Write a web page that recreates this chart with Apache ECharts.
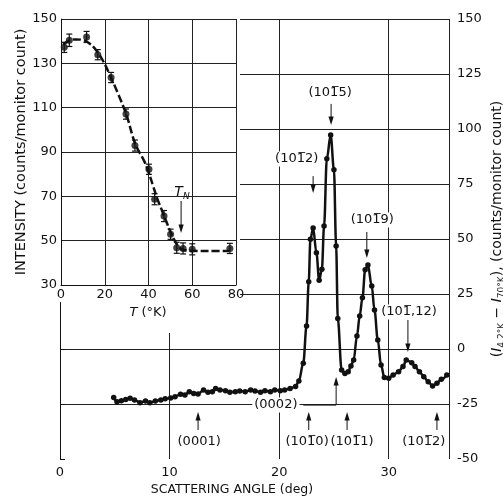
<!DOCTYPE html>
<html><head><meta charset="utf-8">
<script src="https://cdn.jsdelivr.net/npm/echarts@6/dist/echarts.min.js"></script>
<style>html,body{margin:0;padding:0;background:#fff}#c{width:503px;height:499px}</style>
</head><body><div id="c"></div>
<script>
// ---- main scan: scattering angle (deg) vs (I4.2K - I70K)
const SCAN_ANGLE = [4.9,5.2,5.6,6.0,6.4,6.8,7.3,7.8,8.2,8.7,9.2,9.6,10.1,10.5,11.0,11.4,11.8,12.2,12.6,13.1,13.5,13.9,14.2,14.6,15.1,15.5,16.0,16.4,16.9,17.4,17.8,18.3,18.7,19.2,19.6,20.1,20.5,21.0,21.5,21.8,22.2,22.5,22.7,22.85,23.1,23.4,23.65,23.9,24.1,24.35,24.7,25.0,25.2,25.35,25.7,26.0,26.3,26.55,26.8,27.1,27.35,27.6,27.85,28.1,28.45,28.7,29.0,29.3,29.6,30.0,30.4,30.9,31.3,31.6,32.1,32.4,32.8,33.2,33.6,34.0,34.4,34.8,35.3];
const SCAN_VALUE = [-22.0,-24.0,-23.5,-22.9,-22.4,-23.2,-24.4,-23.6,-24.4,-23.6,-23.2,-22.6,-22.3,-21.7,-20.6,-20.9,-19.4,-20.2,-20.5,-18.6,-19.7,-19.4,-17.9,-18.6,-19.0,-19.7,-19.4,-19.1,-19.4,-18.6,-19.1,-19.7,-19.0,-19.4,-18.6,-19.0,-18.6,-17.9,-17.1,-14.5,-6.5,10.5,30.6,49.9,55.0,43.8,31.2,36.3,55.9,86.5,97.3,81.5,46.8,13.9,-9.5,-11.1,-10.3,-7.7,-5.0,5.9,15.0,23.3,36.0,38.2,28.6,17.7,4.1,-7.3,-13.0,-13.3,-11.8,-10.3,-8.0,-5.0,-6.2,-8.0,-10.3,-12.6,-14.9,-16.8,-15.6,-13.8,-11.8];
// ---- inset: temperature (K) vs intensity
const INSET_T   = [1.5,3.8,11.7,16.8,22.9,29.7,33.8,40.2,42.8,47.1,50.1,52.9,55.8,60.0,77.2];
const INSET_I   = [137.2,140.4,141.9,133.9,123.6,107.1,92.9,82.2,68.7,61.1,52.9,46.8,46.5,46.1,46.5];
const INSET_ERR = [2.3,2.8,2.5,2.3,2.3,2.3,2.5,2.3,2.5,2.5,2.3,2.5,2.5,2.5,2.3];
const CURVE_T = [1,4,7,10,13,16,19,22,26,30,34,38,40,42,44,46,48,50,52,54,56,60,70,77];
const CURVE_I = [138.5,140.3,140.8,140.5,139,136,131.5,125.5,116.5,106.5,93.5,86,81,75,69,64,59,54,50,47,45.8,45.4,45.3,45.3];
// ---- ticks
const MAIN_X_TICKS = [0,10,20,30];
const MAIN_Y_TICKS = [-50,-25,0,25,50,75,100,125,150];
const INSET_X_TICKS = [0,20,40,60,80];
const INSET_Y_TICKS = [30,50,70,90,110,130,150];
// ---- annotations (data coordinates of main plot)
const OB = '1\u0305';
const NOTES = [
  {text:'(10'+OB+'5)', lx:24.65, ly:116.4, ax:24.74, tail:111.4, tip:101.8},
  {text:'(10'+OB+'2)', lx:21.6, ly:86.4, ax:23.1, tail:78.6, tip:70.9},
  {text:'(10'+OB+'9)', lx:28.5, ly:58.6, ax:28.0, tail:53.2, tip:41.4},
  {text:'(10'+OB+',12)', lx:31.85, ly:16.8, ax:31.75, tail:13.2, tip:-1.4},
  {text:'(0001)', lx:12.7, ly:-42.3, ax:12.6, tail:-36.8, tip:-28.6},
  {text:'(10'+OB+'0)', lx:22.55, ly:-42.3, ax:22.7, tail:-36.8, tip:-28.6},
  {text:'(10'+OB+'1)', lx:26.65, ly:-42.3, ax:26.2, tail:-36.8, tip:-28.6},
  {text:'(10'+OB+'2)', lx:33.2, ly:-42.3, ax:34.4, tail:-36.8, tip:-28.6},
  {text:'(0002)', lx:19.7, ly:-25.5, ax:25.2, tail:-25.5, tip:-12.7, from:22.2}
];
const INSET_NOTES = [
  {text:'{t|T}{n|N}', lx:55.3, ly:72, ax:54.9, tail:67.9, tip:53.5, rich:true}
];

const FONT = 'DejaVu Sans';
const INK = '#111';

function arrowRenderer(list){
  return function(params, api){
    const a = list[params.dataIndex];
    const ch = [];
    const tip = api.coord([a.ax, a.tip]);
    const tail = api.coord([a.ax, a.tail]);
    const dir = tail[1] > tip[1] ? 1 : -1;
    if (a.from !== undefined) {
      const st = api.coord([a.from, a.tail]);
      ch.push({type:'polyline', shape:{points:[st, tail, [tip[0], tip[1]+dir*6]]}, style:{stroke:INK, lineWidth:1, fill:null}});
    } else {
      ch.push({type:'line', shape:{x1:tail[0], y1:tail[1], x2:tip[0], y2:tip[1]+dir*6}, style:{stroke:INK, lineWidth:1}});
    }
    ch.push({type:'polygon', shape:{points:[[tip[0], tip[1]], [tip[0]-2.6, tip[1]+dir*8.5], [tip[0]+2.6, tip[1]+dir*8.5]]}, style:{fill:INK}});
    const lp = api.coord([a.lx, a.ly]);
    const st = {text:a.text, fontSize:13, fontFamily:FONT, fill:INK, align:'center', verticalAlign:'middle', backgroundColor:'#fff', padding:[1,2]};
    if (a.rich) {
      st.rich = {t:{fontStyle:'italic', fontSize:14, fontFamily:FONT, fill:INK}, n:{fontStyle:'italic', fontSize:9, fontFamily:FONT, fill:INK, padding:[9,0,0,0]}};
      st.backgroundColor = null;
    }
    ch.push({type:'text', x:lp[0], y:lp[1], style:st});
    return {type:'group', children:ch};
  };
}

function errRenderer(params, api){
  const t = api.value(0), v = api.value(1), e = api.value(2);
  const hi = api.coord([t, v+e]), lo = api.coord([t, v-e]);
  const w = 3, s = {stroke:INK, lineWidth:1.2};
  return {type:'group', children:[
    {type:'line', shape:{x1:hi[0], y1:hi[1], x2:lo[0], y2:lo[1]}, style:s},
    {type:'line', shape:{x1:hi[0]-w, y1:hi[1], x2:hi[0]+w, y2:hi[1]}, style:s},
    {type:'line', shape:{x1:lo[0]-w, y1:lo[1], x2:lo[0]+w, y2:lo[1]}, style:s}
  ]};
}

const gridLine = {show:true, lineStyle:{color:'#222', width:1}};
const chart = echarts.init(document.getElementById('c'), null, {renderer:'canvas'});
chart.setOption({
  animation:false,
  backgroundColor:'#fff',
  grid:[
    {left:60, right:54, top:19, bottom:40},
    {left:61, top:19, width:175, height:266}
  ],
  xAxis:[
    {gridIndex:0, type:'value', min:MAIN_X_TICKS[0], max:35.5, interval:10, z:0,
     axisLine:{show:false}, axisTick:{show:false},
     axisLabel:{fontSize:13, fontFamily:FONT, color:INK, margin:7,
       formatter:v => MAIN_X_TICKS.includes(v) ? String(v) : ''},
     splitLine:gridLine},
    {gridIndex:1, type:'value', min:INSET_X_TICKS[0], max:INSET_X_TICKS[INSET_X_TICKS.length-1], interval:20, z:2,
     axisLine:{show:true, lineStyle:{color:INK, width:1}}, axisTick:{show:false},
     axisLabel:{fontSize:13, fontFamily:FONT, color:INK, margin:3},
     splitLine:gridLine}
  ],
  yAxis:[
    {gridIndex:0, type:'value', position:'right', min:MAIN_Y_TICKS[0], max:MAIN_Y_TICKS[MAIN_Y_TICKS.length-1], interval:25, z:0,
     axisLine:{show:true, lineStyle:{color:INK, width:1}},
     axisTick:{show:true, length:5, lineStyle:{color:INK}},
     axisLabel:{fontSize:13, fontFamily:FONT, color:INK, margin:8},
     splitLine:{show:true, showMinLine:false, lineStyle:{color:'#222', width:1}}},
    {gridIndex:1, type:'value', min:INSET_Y_TICKS[0], max:INSET_Y_TICKS[INSET_Y_TICKS.length-1], interval:20, z:2,
     axisLine:{show:true, lineStyle:{color:INK, width:1}}, axisTick:{show:false},
     axisLabel:{fontSize:13, fontFamily:FONT, color:INK, margin:4},
     splitLine:gridLine}
  ],
  graphic:{elements:[
    {type:'rect', z:1, shape:{x:0, y:0, width:240, height:302}, style:{fill:'#fff'}},
    {type:'rect', z:1, shape:{x:165, y:300, width:9, height:33}, style:{fill:'#fff'}},
    {type:'text', z:10, x:21, y:152, rotation:Math.PI/2,
     style:{text:'INTENSITY (counts/monitor count)', fontSize:14.5, fontFamily:FONT, fill:INK, align:'center', verticalAlign:'middle'}},
    {type:'text', z:10, x:148, y:313,
     style:{text:'{i|T} (°K)', fontSize:13, fontFamily:FONT, fill:INK, align:'center', verticalAlign:'middle',
            rich:{i:{fontStyle:'italic', fontSize:13, fontFamily:FONT, fill:INK}}}},
    {type:'text', z:10, x:232, y:490,
     style:{text:'SCATTERING ANGLE (deg)', fontSize:12.5, fontFamily:FONT, fill:INK, align:'center', verticalAlign:'middle'}},
    {type:'text', z:10, x:497, y:229, rotation:Math.PI/2,
     style:{text:'({i|I}{s|4.2°K} − {i|I}{s|70°K}), (counts/monitor count)', fontSize:14, fontFamily:FONT, fill:INK,
            align:'center', verticalAlign:'middle',
            rich:{i:{fontStyle:'italic', fontSize:14, fontFamily:FONT, fill:INK},
                  s:{fontSize:9, fontFamily:FONT, fill:INK, padding:[9,0,0,0]}}}}
  ]},
  series:[
    {type:'line', xAxisIndex:0, yAxisIndex:0, z:3,
     data:SCAN_ANGLE.map((x,i)=>[x, SCAN_VALUE[i]]),
     smooth:0.35, smoothMonotone:'x', symbol:'circle', symbolSize:5.5, showSymbol:true,
     lineStyle:{color:INK, width:2.5}, itemStyle:{color:INK}},
    {type:'custom', xAxisIndex:0, yAxisIndex:0, z:4, clip:false, silent:true,
     data:NOTES.map(n=>[n.ax, n.tip]), encode:{x:0, y:1}, renderItem:arrowRenderer(NOTES)},
    {type:'line', xAxisIndex:1, yAxisIndex:1, z:3,
     data:CURVE_T.map((x,i)=>[x, CURVE_I[i]]),
     smooth:0.4, symbol:'none', lineStyle:{color:INK, width:2.5, type:[8,3]}},
    {type:'custom', xAxisIndex:1, yAxisIndex:1, z:4,
     data:INSET_T.map((t,i)=>[t, INSET_I[i], INSET_ERR[i]]), encode:{x:0, y:1}, renderItem:errRenderer},
    {type:'scatter', xAxisIndex:1, yAxisIndex:1, z:5,
     data:INSET_T.map((t,i)=>[t, INSET_I[i]]), symbol:'circle', symbolSize:7, itemStyle:{color:INK}},
    {type:'custom', xAxisIndex:1, yAxisIndex:1, z:4, clip:false, silent:true,
     data:INSET_NOTES.map(n=>[n.ax, n.tip]), encode:{x:0, y:1}, renderItem:arrowRenderer(INSET_NOTES)}
  ]
});
</script></body></html>
